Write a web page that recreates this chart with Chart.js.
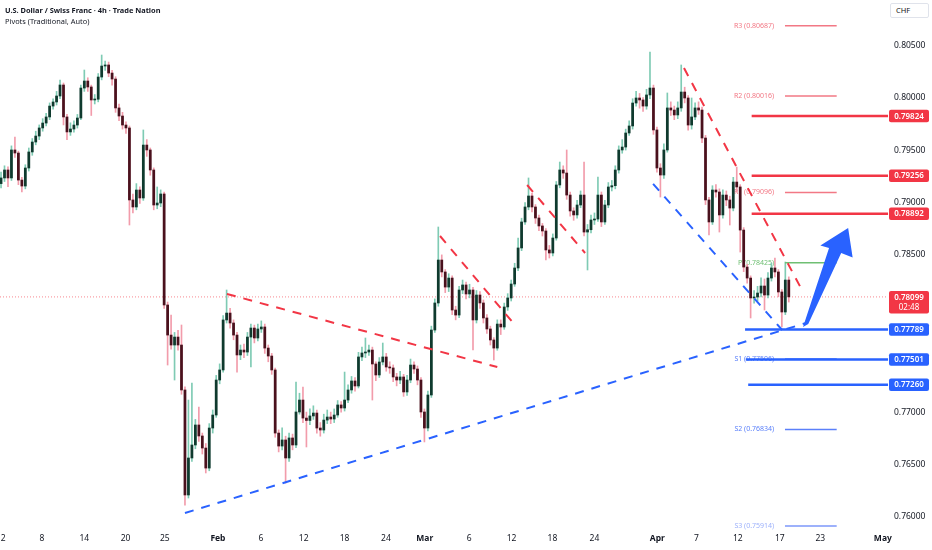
<!DOCTYPE html>
<html><head><meta charset="utf-8">
<script src="https://cdn.jsdelivr.net/npm/chart.js@4.4.1/dist/chart.umd.min.js"></script>
<style>
html,body{margin:0;padding:0;background:#fff;}
#wrap{position:relative;width:932px;height:550px;}
#hdr{position:absolute;left:5px;top:5px;font-family:"Noto Sans",sans-serif;color:#131722;font-size:7.4px;line-height:11px;pointer-events:none;white-space:nowrap;}
#hdr b{font-weight:700;}
#chf{position:absolute;left:890px;top:3px;width:39px;height:15px;border:1px solid #e0e3eb;border-radius:2px;box-sizing:border-box;font:7.5px "Noto Sans",sans-serif;color:#131722;line-height:13px;padding-left:5px;background:#fff;}
</style></head>
<body><div id="wrap"><canvas id="c"></canvas>
<div id="hdr"><b>U.S. Dollar / Swiss Franc · 4h · Trade Nation</b><br>Pivots (Traditional, Auto)</div>
<div id="chf">CHF</div></div>
<script>
// ---- DATA (8h candles) ----
const firstOpen = 0.79180;
const closes = [
0.79234,0.79310,0.79234,0.79501,0.79472,0.79214,0.79157,0.79329,0.79482,0.79577,
0.79634,0.79711,0.79758,0.79816,0.79920,0.79959,0.80016,0.80121,0.79816,0.79673,
0.79701,0.79739,0.79806,0.80092,0.80159,0.80102,0.79978,0.79985,0.80197,0.80302,
0.80312,0.80235,0.80178,0.79902,0.79825,0.79739,0.79711,0.79024,0.78957,0.79119,
0.79043,0.79548,0.79501,0.79310,0.78976,0.78995,0.79081,0.78022,0.77735,0.77640,
0.77716,0.77640,0.77211,0.76209,0.76562,0.76686,0.76877,0.76772,0.76657,0.76466,
0.76848,0.76972,0.77306,0.77402,0.77879,0.77945,0.77850,0.77735,0.77545,0.77592,
0.77573,0.77716,0.77802,0.77707,0.77793,0.77812,0.77611,0.77535,0.77402,0.76800,
0.76676,0.76734,0.76562,0.76753,0.76686,0.77001,0.77115,0.76943,0.76920,0.76963,
0.76991,0.76848,0.76829,0.76924,0.76953,0.76934,0.76972,0.77068,0.77039,0.77115,
0.77211,0.77297,0.77249,0.77526,0.77564,0.77573,0.77592,0.77459,0.77354,0.77478,
0.77526,0.77430,0.77421,0.77335,0.77306,0.77335,0.77192,0.77306,0.77449,0.77411,
0.77306,0.77001,0.76848,0.77163,0.77783,0.78041,0.78451,0.78337,0.78193,0.78279,
0.77974,0.77926,0.78165,0.78213,0.78127,0.78165,0.77879,0.78117,0.78041,0.77898,
0.77793,0.77688,0.77611,0.77840,0.77812,0.78003,0.78089,0.78222,0.78375,0.78566,
0.78814,0.78957,0.79062,0.78957,0.78852,0.78776,0.78728,0.78547,0.78518,0.78661,
0.79167,0.79310,0.79281,0.79071,0.78919,0.78881,0.78976,0.79071,0.78718,0.78740,
0.78833,0.78842,0.79071,0.78814,0.78976,0.79148,0.79160,0.79310,0.79501,0.79529,
0.79663,0.79730,0.79949,0.79997,0.79978,0.79920,0.80026,0.80092,0.79692,0.79329,
0.79262,0.79501,0.79902,0.79882,0.79835,0.79902,0.80054,0.79997,0.79739,0.79816,
0.79902,0.79882,0.79615,0.79024,0.78814,0.79119,0.79100,0.78881,0.79071,0.79024,
0.78947,0.79195,0.79148,0.78737,0.78384,0.78279,0.78089,0.78098,0.78136,0.78203,
0.78117,0.78279,0.78375,0.78337,0.78146,0.77955,0.78260,0.78099];
const highs = [
0.79290,0.79350,0.79340,0.79540,0.79625,0.79490,0.79240,0.79360,0.79520,0.79610,
0.79680,0.79740,0.79800,0.79850,0.79950,0.79990,0.80060,0.80169,0.80140,0.79840,
0.79760,0.79780,0.79840,0.80120,0.80264,0.80190,0.80120,0.80030,0.80230,0.80407,
0.80350,0.80340,0.80260,0.80200,0.79940,0.79860,0.79770,0.79730,0.79080,0.79180,
0.79150,0.79692,0.79600,0.79520,0.79330,0.79148,0.79120,0.79100,0.78050,0.77926,
0.77760,0.77780,0.77831,0.77240,0.77115,0.77277,0.76930,0.77048,0.76800,0.76700,
0.76890,0.77020,0.77350,0.77460,0.77920,0.78165,0.77990,0.77880,0.77760,0.77640,
0.77650,0.77760,0.77840,0.77830,0.77840,0.77870,0.77840,0.77640,0.77560,0.77420,
0.76830,0.76850,0.76770,0.76800,0.76790,0.77287,0.77180,0.77239,0.77000,0.77030,
0.77060,0.77020,0.76900,0.76980,0.77020,0.77000,0.77030,0.77110,0.77100,0.77382,
0.77260,0.77340,0.77330,0.77570,0.77621,0.77707,0.77640,0.77620,0.77480,0.77520,
0.77659,0.77560,0.77480,0.77450,0.77370,0.77390,0.77360,0.77350,0.77506,0.77480,
0.77440,0.77330,0.77030,0.77200,0.77820,0.78080,0.78766,0.78500,0.78360,0.78320,
0.78300,0.78010,0.78200,0.78260,0.78240,0.78220,0.78190,0.78160,0.78150,0.78070,
0.77930,0.77820,0.77710,0.77880,0.77880,0.78040,0.78130,0.78260,0.78420,0.78661,
0.78850,0.79000,0.79234,0.79090,0.78980,0.78880,0.78800,0.78750,0.78590,0.78700,
0.79200,0.79386,0.79350,0.79501,0.79100,0.78950,0.79020,0.79110,0.79386,0.78790,
0.78880,0.78900,0.79243,0.79100,0.79020,0.79190,0.79210,0.79350,0.79540,0.79600,
0.79700,0.79780,0.79990,0.80060,0.80040,0.80000,0.80080,0.80436,0.80120,0.79720,
0.79370,0.79560,0.80045,0.79960,0.79920,0.79960,0.80312,0.80100,0.80020,0.79997,
0.79950,0.79960,0.79910,0.79640,0.79050,0.79160,0.79170,0.79130,0.79120,0.79110,
0.79060,0.79240,0.79338,0.79170,0.78760,0.78410,0.78300,0.78160,0.78200,0.78280,
0.78270,0.78330,0.78422,0.78470,0.78360,0.78170,0.78432,0.78290];
const lows = [
0.79140,0.79200,0.79150,0.79210,0.79430,0.79170,0.79100,0.79130,0.79300,0.79450,
0.79550,0.79600,0.79680,0.79730,0.79790,0.79890,0.79930,0.79990,0.79740,0.79600,
0.79640,0.79670,0.79710,0.79790,0.80060,0.80060,0.79830,0.79940,0.79960,0.80170,
0.80260,0.80200,0.80120,0.79860,0.79780,0.79700,0.79660,0.78785,0.78900,0.78930,
0.78990,0.79020,0.79440,0.79260,0.78930,0.78940,0.78960,0.77990,0.77449,0.77600,
0.77306,0.77590,0.77170,0.76113,0.76180,0.76530,0.76650,0.76720,0.76600,0.76419,
0.76440,0.76800,0.76950,0.77270,0.77380,0.77850,0.77800,0.77690,0.77382,0.77500,
0.77520,0.77540,0.77430,0.77660,0.77680,0.77760,0.77560,0.77480,0.77360,0.76760,
0.76620,0.76640,0.76323,0.76530,0.76640,0.76660,0.76980,0.76900,0.76667,0.76880,
0.76930,0.76800,0.76770,0.76800,0.76890,0.76890,0.76900,0.76950,0.77000,0.77010,
0.77090,0.77180,0.77200,0.77230,0.77490,0.77520,0.77540,0.77115,0.77300,0.77330,
0.77450,0.77390,0.77370,0.77290,0.77250,0.77270,0.77150,0.77160,0.77280,0.77370,
0.77260,0.76950,0.76715,0.76820,0.77140,0.77760,0.78010,0.78290,0.78140,0.78150,
0.77930,0.77880,0.77900,0.78130,0.78080,0.78090,0.77592,0.77850,0.77990,0.77850,
0.77750,0.77640,0.77497,0.77590,0.77740,0.77790,0.77970,0.78060,0.78200,0.78350,
0.78540,0.78790,0.78930,0.78910,0.78800,0.78730,0.78680,0.78451,0.78470,0.78490,
0.78640,0.79140,0.79230,0.79030,0.78870,0.78830,0.78850,0.78950,0.78680,0.78356,
0.78710,0.78790,0.78820,0.78770,0.78790,0.78950,0.79110,0.79130,0.79280,0.79470,
0.79500,0.79640,0.79700,0.79920,0.79900,0.79870,0.79890,0.79990,0.79650,0.79290,
0.79052,0.79230,0.79480,0.79830,0.79790,0.79800,0.79870,0.79950,0.79690,0.79700,
0.79790,0.79840,0.79570,0.78980,0.78690,0.78790,0.79050,0.78718,0.78850,0.78970,
0.78785,0.78920,0.79100,0.78527,0.78340,0.78230,0.77898,0.78040,0.78060,0.78100,
0.77974,0.78090,0.78250,0.78290,0.78100,0.77812,0.77930,0.78050];

const xTickPos    = [0.6, 11.8, 24.0, 35.9, 47.2, 62.5, 74.9, 87.2, 99.0, 110.9, 122.1, 134.9, 147.1, 158.9, 171.0, 189.1, 200.4, 212.3, 224.4, 236.1, 254.1];
const xTickLabels = ['2','8','14','20','25','Feb','6','12','18','24','Mar','6','12','18','24','Apr','7','12','17','23','May'];
const monthLabels = ['Feb','Mar','Apr','May'];
const yTicks = [0.76000,0.76500,0.77000,0.77500,0.78000,0.78500,0.79000,0.79500,0.80000,0.80500];

const pivotNames  = ['R3','R2','R1','P','S1','S2','S3'];
const pivotValues = [0.80687,0.80016,0.79096,0.78425,0.77506,0.76834,0.75914];
const resistanceLevels = [0.79824,0.79256,0.78892];
const supportLevels    = [0.77789,0.77501,0.77260];
const lastPrice = 0.78099;
const countdown = '02:48';

// trend lines: [[barIndex, price],[barIndex, price]]
const redTrends = [
  [[65.1,0.78127],[143.0,0.77430]],
  [[126.5,0.78680],[147.6,0.77850]],
  [[151.6,0.79167],[168.3,0.78518]],
  [[196.8,0.80283],[231.1,0.78146]]
];
const blueTrends = [
  [[53.0,0.76037],[232.0,0.77850]],
  [[187.9,0.79177],[225.1,0.77783]]
];
const arrowPts = [[231.1,0.77812],[238.6,0.78566],[236.1,0.78590],[244.1,0.78757],[245.4,0.78475],[242.1,0.78518],[232.6,0.77841]];

// ---- STYLE ----
const RED='#f23645', BLUE='#2962ff';
const UP_WICK='#7fcbb4', DN_WICK='#f29cab', UP_BODY='#0f3a2e', DN_BODY='#4a111d';
const X_MIN=-0.3, X_MAX=250.4, Y_MIN=0.75894, Y_MAX=0.80932;
const PIV_FROM=225.9, PIV_TO=240.8, PIV_LABEL_X=222.8, AXIS_EDGE=255.6;
const RES_FROM=216.3, SUP_FROM=[214.4,214.6,215.3];

Chart.defaults.font.family='"Noto Sans", sans-serif';

const opens = closes.map((c,i)=> i===0 ? firstOpen : closes[i-1]);
const up = closes.map((c,i)=> c >= opens[i]);

const lineDs = (pts, color, width, dash, order, clip) => ({
  type:'line', data: pts.map(p=>({x:p[0], y:p[1]})), borderColor:color, backgroundColor:color,
  borderWidth:width, borderDash:dash||[], pointRadius:0, fill:false, tension:0, order:order,
  clip: clip, borderCapStyle:'butt'
});

function pivotColor(n){ return n[0]==='R' ? '#f27885' : n==='P' ? '#6fbf73' : (n==='S3' ? '#9db1fb' : '#5b80fa'); }

const datasets = [];
datasets.push(lineDs([[X_MIN,lastPrice],[AXIS_EDGE,lastPrice]], 'rgba(242,54,69,0.6)', 1, [1,2], 20, false));
datasets.push({
  type:'bar', data: closes.map((c,i)=>({x:i, y:[lows[i], highs[i]]})),
  backgroundColor: up.map(u=>u?UP_WICK:DN_WICK), barThickness:1, grouped:false, order:12, borderWidth:0
});
datasets.push({
  type:'bar', data: closes.map((c,i)=>({x:i, y:[opens[i], c]})),
  backgroundColor: up.map(u=>u?UP_BODY:DN_BODY), barThickness:2.1, minBarLength:1, grouped:false, order:11, borderWidth:0
});
pivotNames.forEach((n,k)=>{
  datasets.push(lineDs([[PIV_FROM,pivotValues[k]],[PIV_TO,pivotValues[k]]], pivotColor(n), n==='S3'?2:1.5, [], 8, false));
});
redTrends.forEach(t=>datasets.push(lineDs(t, RED, 2, [9,8], 3)));
blueTrends.forEach(t=>datasets.push(lineDs(t, BLUE, 2, [9,8], 3)));
resistanceLevels.forEach(v=>datasets.push(lineDs([[RES_FROM,v],[AXIS_EDGE,v]], RED, 2.5, [], 2, false)));
supportLevels.forEach((v,k)=>datasets.push(lineDs([[SUP_FROM[k],v],[AXIS_EDGE,v]], BLUE, 2.5, [], 2, false)));

function tag(ctx, yc, color, lines){
  const x0=889, w=40, h = lines.length===1 ? 12.5 : 22.5;
  const top = lines.length===1 ? yc-h/2 : yc-5.8;
  ctx.fillStyle=color;
  ctx.beginPath();
  if (ctx.roundRect) ctx.roundRect(x0, top, w, h, 2); else ctx.rect(x0, top, w, h);
  ctx.fill();
  ctx.fillStyle='#ffffff';
  ctx.textAlign='center'; ctx.textBaseline='middle';
  lines.forEach((t,k)=>{ ctx.font = (k===0?'600 ':'')+'8px "Noto Sans", sans-serif'; ctx.fillText(t, x0+w/2, top+6.4+k*10); });
}

const overlay = {
  id:'overlay',
  beforeDatasetsDraw(chart){
    const {ctx, scales:{x,y}} = chart;
    ctx.save();
    ctx.font='7px "Noto Sans", sans-serif';
    ctx.textAlign='right'; ctx.textBaseline='middle';
    pivotNames.forEach((n,k)=>{
      ctx.fillStyle=pivotColor(n);
      ctx.fillText(n+' ('+pivotValues[k].toFixed(5)+')', x.getPixelForValue(PIV_LABEL_X), y.getPixelForValue(pivotValues[k]));
    });
    ctx.restore();
  },
  afterDatasetsDraw(chart){
    const {ctx, scales:{x,y}} = chart;
    ctx.save();
    ctx.beginPath();
    arrowPts.forEach((p,k)=>{
      const px=x.getPixelForValue(p[0]), py=y.getPixelForValue(p[1]);
      if(k) ctx.lineTo(px,py); else ctx.moveTo(px,py);
    });
    ctx.closePath();
    ctx.fillStyle=BLUE; ctx.fill();
    ctx.restore();
  },
  afterDraw(chart){
    const {ctx, scales:{y}} = chart;
    ctx.save();
    resistanceLevels.forEach(v=>tag(ctx, y.getPixelForValue(v), RED, [v.toFixed(5)]));
    supportLevels.forEach(v=>tag(ctx, y.getPixelForValue(v), BLUE, [v.toFixed(5)]));
    tag(ctx, y.getPixelForValue(lastPrice), RED, [lastPrice.toFixed(5), countdown]);
    ctx.restore();
  }
};

new Chart(document.getElementById('c'), {
  type:'bar',
  data:{ datasets },
  options:{
    responsive:true, maintainAspectRatio:false, animation:false, events:[],
    layout:{padding:0},
    plugins:{ legend:{display:false}, tooltip:{enabled:false} },
    scales:{
      x:{
        type:'linear', min:X_MIN, max:X_MAX, offset:false,
        grid:{display:false, drawTicks:false}, border:{display:false},
        afterBuildTicks(s){ s.ticks = xTickPos.map(v=>({value:v})); },
        afterFit(s){ s.height=22; s.paddingLeft=0; s.paddingRight=0; },
        ticks:{
          autoSkip:false, maxRotation:0, minRotation:0, padding:5, color:'#131722',
          font:(c)=>({size:8.5, weight: monthLabels.includes(xTickLabels[c.index]) ? 'bold' : 'normal'}),
          callback:(v,i)=>xTickLabels[i]
        }
      },
      y:{
        type:'linear', position:'right', min:Y_MIN, max:Y_MAX,
        grid:{display:false, drawTicks:false}, border:{display:false},
        afterBuildTicks(s){ s.ticks = yTicks.map(v=>({value:v})); },
        afterFit(s){ s.width=62; s.paddingTop=0; s.paddingBottom=0; },
        ticks:{ padding:24, color:'#131722', font:{size:8.5}, callback:(v)=>Number(v).toFixed(5) }
      }
    }
  },
  plugins:[overlay]
});
</script>
</body></html>
